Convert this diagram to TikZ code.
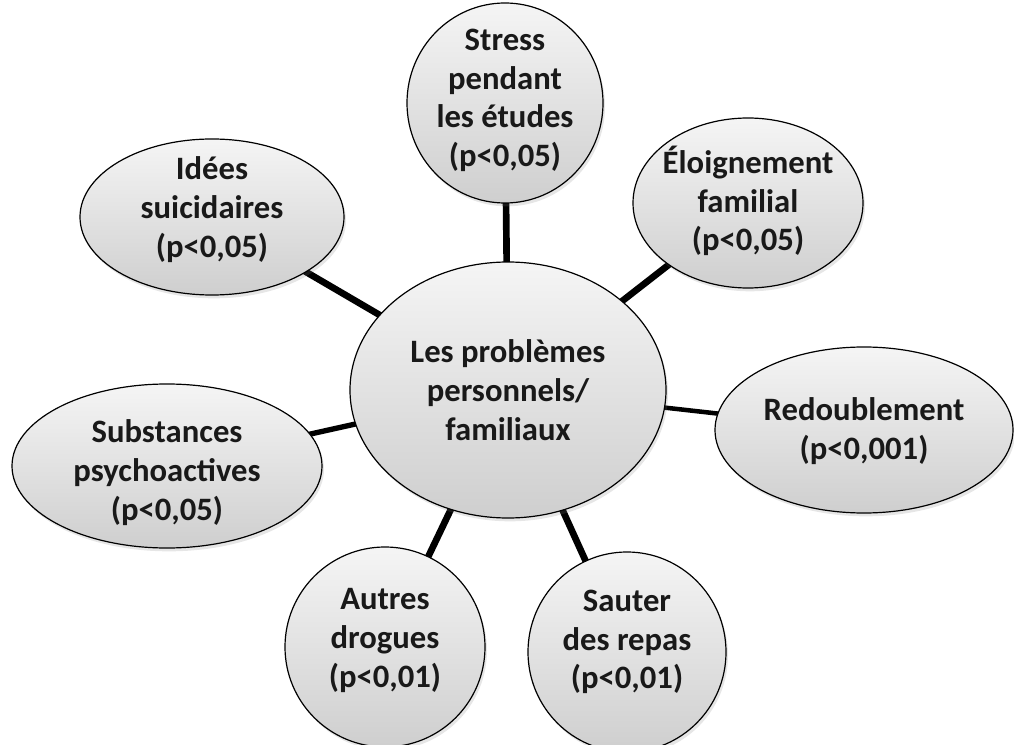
\documentclass[tikz,border=0pt]{standalone}
\usepackage{fontspec}
\setmainfont{Carlito}
\usetikzlibrary{shapes.geometric,shadows}
\pgfdeclarelayer{background}
\pgfsetlayers{background,main}
\tikzset{
  blob/.style={ellipse, draw=black, line width=0.9pt, top color=gray!8, bottom color=gray!38,
    inner sep=0pt, drop shadow={opacity=0.2, shadow xshift=1.5pt, shadow yshift=-2.5pt}},
  lbl/.style={align=center, font=\bfseries\fontsize{24.5}{29}\selectfont, text=black!90},
  link/.style={line width=5pt, black},
}
\begin{document}
\begin{tikzpicture}[x=0.75pt, y=-0.75pt]
\useasboundingbox (0,0) rectangle (1014,745);
\node[blob, minimum width=237pt, minimum height=192pt] (center) at (508,390) {};
\node[blob, minimum width=147pt, minimum height=150pt] (stress) at (505,103) {};
\node[blob, minimum width=172.5pt, minimum height=127.5pt] (eloi) at (748,203) {};
\node[blob, minimum width=223.5pt, minimum height=124.5pt] (redo) at (864,430) {};
\node[blob, minimum width=148.5pt, minimum height=150pt] (sauter) at (627,652) {};
\node[blob, minimum width=150pt, minimum height=150pt] (autres) at (385,647) {};
\node[blob, minimum width=232.5pt, minimum height=123pt] (subst) at (167,466) {};
\node[blob, minimum width=198pt, minimum height=117pt] (idees) at (212,217) {};

\node[lbl] (center-t) at (center) {Les problèmes\\personnels/\\familiaux};
\node[lbl, yshift=2pt] (stress-t) at (stress) {Stress\\pendant\\les études\\(p<0,05)};
\node[lbl, yshift=1.5pt] (eloi-t) at (eloi) {Éloignement\\familial\\(p<0,05)};
\node[lbl, yshift=-1pt] (redo-t) at (redo) {Redoublement\\(p<0,001)};
\node[lbl, yshift=7.5pt] (sauter-t) at (sauter) {Sauter\\des repas\\(p<0,01)};
\node[lbl, yshift=5pt] (autres-t) at (autres) {Autres\\drogues\\(p<0,01)};
\node[lbl, yshift=-5pt] (subst-t) at (subst) {Substances\\psychoactives\\(p<0,05)};
\node[lbl, yshift=5.5pt] (idees-t) at (idees) {Idées\\suicidaires\\(p<0,05)};

\begin{pgfonlayer}{background}
\draw[link] (center.center) -- (stress.center);
\draw[link] (center.center) -- (eloi.center);
\draw[link, line width=3.4pt] (center.center) -- (redo.center);
\draw[link] (center.center) -- (sauter.center);
\draw[link] (center.center) -- (autres.center);
\draw[link, line width=4pt] (center.center) -- (subst.center);
\draw[link] (center.center) -- (idees.center);
\end{pgfonlayer}
\end{tikzpicture}
\end{document}
